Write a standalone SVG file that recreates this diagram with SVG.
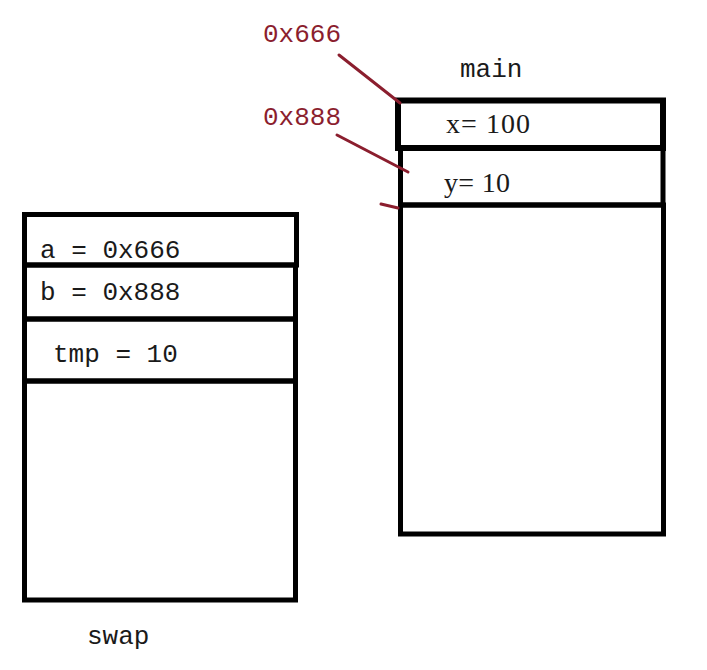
<svg xmlns="http://www.w3.org/2000/svg" width="707" height="670" viewBox="0 0 707 670">
<style>
.cell{fill:none;stroke:#000;stroke-width:5}
.t{font-family:"Liberation Mono","DejaVu Sans Mono",monospace;font-size:26px;fill:#1a1a1a}
.s{font-family:"Liberation Serif","Times New Roman",serif;font-size:28px;fill:#1a1a1a}
.r{font-family:"Liberation Mono","DejaVu Sans Mono",monospace;font-size:26px;fill:#8b1e2e}
.ln{stroke:#8b1e2e;stroke-width:3;stroke-linecap:round;fill:none}
</style>
<rect width="707" height="670" fill="#fff"/>
<g id="main">
<rect class="cell" x="400.5" y="205" width="263" height="329"/>
<rect class="cell" x="398" y="100.5" width="265" height="47.5" style="stroke-width:6"/>
<rect class="cell" x="400.5" y="148" width="262.5" height="57"/>
<text class="s" x="446" y="133" textLength="84">x= 100</text>
<text class="s" x="444" y="192" textLength="66">y= 10</text>
<text class="t" x="460" y="77">main</text>
</g>
<g id="swap">
<rect class="cell" x="24.5" y="381" width="271" height="219"/>
<rect class="cell" x="24.5" y="214.5" width="272" height="50.5"/>
<rect class="cell" x="24.5" y="265" width="271" height="54"/>
<rect class="cell" x="24.5" y="319" width="271" height="62"/>
<text class="t" x="40" y="258">a = 0x666</text>
<text class="t" x="40" y="300">b = 0x888</text>
<text class="t" x="53" y="362">tmp = 10</text>
<text class="t" x="87" y="644">swap</text>
</g>
<g id="addr666">
<text class="r" x="263" y="42">0x666</text>
</g>
<g id="addr888">
<text class="r" x="263" y="125">0x888</text>
</g>
<g id="connectors">
<line class="ln" x1="339" y1="55" x2="400" y2="103"/>
<line class="ln" x1="337" y1="135" x2="408" y2="172"/>
<line class="ln" x1="381" y1="204" x2="398" y2="208"/>
</g>
</svg>
